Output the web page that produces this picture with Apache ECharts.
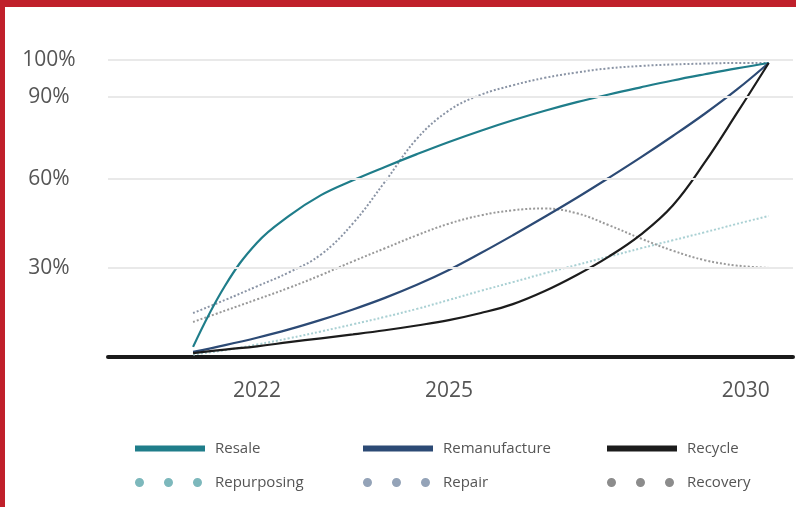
<!DOCTYPE html>
<html>
<head>
<meta charset="utf-8">
<script src="https://cdn.jsdelivr.net/npm/echarts@6/dist/echarts.min.js"></script>
<style>
html,body{margin:0;padding:0;background:#fff;}
#chart{width:796px;height:507px;}
</style>
</head>
<body>
<div id="chart"></div>
<script>
// ---- data ----
const years = [2021, 2021.5, 2022, 2022.5, 2023, 2023.5, 2024, 2024.5, 2025, 2025.5, 2026, 2026.5, 2027, 2027.5, 2028, 2028.5, 2029, 2029.5, 2030];
const resale        = [3.4, 24, 38.5, 47.5, 54.5, 59.5, 64, 68.3, 72.4, 76.2, 79.7, 82.9, 85.8, 88.4, 90.8, 93.1, 95.2, 97.2, 99];
const remanufacture = [1.7, 4.0, 6.5, 9.3, 12.5, 16, 19.9, 24.3, 29.3, 35, 41, 47.2, 53.6, 60.3, 67.2, 74.4, 81.9, 90, 99];
const recycle       = [1.3, 2.5, 3.6, 5.0, 6.3, 7.6, 9.0, 10.6, 12.4, 14.8, 17.8, 22.2, 27.6, 33.8, 41.2, 51, 65.5, 82, 99];
const repurposing   = [0.8, 2.3, 4.2, 6.3, 8.6, 11, 13.5, 16.2, 19.2, 22.3, 25.2, 28.2, 31, 33.8, 36.6, 39.3, 42, 44.8, 47.5];
const repair        = [14.8, 19.2, 23.8, 28.5, 34.5, 45, 59, 73.5, 83, 88.3, 91.5, 94, 95.8, 97.2, 98, 98.5, 98.8, 99, 99];
const recovery      = [11.8, 15.6, 19.4, 23.3, 27.6, 32.2, 36.6, 41, 44.9, 47.7, 49.4, 50, 48.4, 44.4, 39.9, 35.8, 32.6, 30.8, 30];

const xTickValues = [2022, 2025, 2030];
const xTickLabels = ['2022', '2025', '2030'];
const yTickValues = [30, 60, 87.5, 100];
const yTickLabels = ['30%', '60%', '90%', '100%'];

const seriesNames = ['Resale', 'Remanufacture', 'Recycle', 'Repurposing', 'Repair', 'Recovery'];
// ---- end data ----

const colors = {
  'Resale': '#1f7d8a',
  'Remanufacture': '#2c4a75',
  'Recycle': '#1c1c1c',
  'Repurposing': '#a9d0d3',
  'Repair': '#8a94a5',
  'Recovery': '#999999'
};
const legendDotColors = {
  'Repurposing': '#7db8bc',
  'Repair': '#94a3b8',
  'Recovery': '#8c8c8c'
};
const seriesValues = [resale, remanufacture, recycle, repurposing, repair, recovery];

const font = '"Open Sans", "Noto Sans", sans-serif';
const dotsIcon = 'path://M0,4.5a4.5,4.5 0 1,0 9,0a4.5,4.5 0 1,0 -9,0Z M29,4.5a4.5,4.5 0 1,0 9,0a4.5,4.5 0 1,0 -9,0Z M58,4.5a4.5,4.5 0 1,0 9,0a4.5,4.5 0 1,0 -9,0Z';

const series = seriesNames.map((name, i) => {
  const dotted = i >= 3;
  return {
    name: name,
    type: 'line',
    data: years.map((x, k) => [x, seriesValues[i][k]]),
    smooth: 0.4,
    showSymbol: false,
    symbol: 'none',
    z: dotted ? 3 : 4,
    itemStyle: { color: colors[name] },
    lineStyle: dotted ? { color: colors[name], width: 2, type: [2, 2] } : { color: colors[name], width: 2.2 }
  };
});

// gridlines via markLine on a helper series
series.push({
  name: 'grid',
  type: 'line',
  data: [],
  z: 1,
  silent: true,
  markLine: {
    silent: true,
    symbol: 'none',
    label: { show: false },
    lineStyle: { color: '#e9e9e9', width: 2, type: 'solid' },
    emphasis: { disabled: true },
    animation: false,
    data: yTickValues.map(v => ({ yAxis: v }))
  }
});

const legendLeft = [130, 358, 602];
const legends = [];
seriesNames.forEach((name, i) => {
  const row = i < 3 ? 0 : 1;
  const col = i % 3;
  legends.push({
    show: true,
    left: legendLeft[col],
    top: row === 0 ? 436 : 470,
    orient: 'horizontal',
    itemWidth: row === 0 ? 70 : 67,
    itemHeight: row === 0 ? 6 : 9,
    selectedMode: false,
    data: [{
      name: name,
      icon: row === 0 ? 'rect' : dotsIcon,
      itemStyle: { color: row === 0 ? colors[name] : legendDotColors[name], borderWidth: 0 }
    }],
    textStyle: { fontFamily: font, fontSize: 15, color: '#555', padding: [0, 0, 0, row === 0 ? 5 : 8] }
  });
});

const option = {
  animation: false,
  backgroundColor: '#ffffff',
  grid: { left: 108, right: 3, top: 60, bottom: 150, containLabel: false },
  xAxis: {
    type: 'value',
    min: 2019.67,
    max: 2030.38,
    axisLine: { show: true, onZero: false, lineStyle: { color: '#1a1a1a', width: 4 } },
    axisTick: { show: false },
    splitLine: { show: false },
    axisLabel: {
      customValues: xTickValues,
      margin: 24,
      fontFamily: font,
      fontSize: 21,
      color: '#555',
      formatter: function (v) {
        const idx = xTickValues.indexOf(v);
        const lab = idx >= 0 ? xTickLabels[idx] : '';
        return idx === xTickValues.length - 1 ? '{r|' + lab + '}' : lab;
      },
      rich: { r: { fontFamily: font, fontSize: 21, color: '#555', padding: [0, 46, 0, 0] } }
    }
  },
  yAxis: {
    type: 'value',
    min: 0,
    max: 100,
    axisLine: { show: false },
    axisTick: { show: false },
    splitLine: { show: false },
    axisLabel: {
      customValues: yTickValues,
      align: 'center',
      margin: 59,
      fontFamily: font,
      fontSize: 21,
      color: '#555',
      formatter: function (v) {
        const idx = yTickValues.indexOf(v);
        return idx >= 0 ? yTickLabels[idx] : '';
      }
    }
  },
  legend: legends,
  graphic: [
    { type: 'rect', left: 0, top: 0, shape: { width: 796, height: 7 }, style: { fill: '#c0202b' }, z: 100 },
    { type: 'rect', left: 0, top: 0, shape: { width: 5, height: 507 }, style: { fill: '#c0202b' }, z: 100 }
  ],
  series: series
};

const chart = echarts.init(document.getElementById('chart'), null, { renderer: 'canvas' });
chart.setOption(option);
</script>
</body>
</html>
